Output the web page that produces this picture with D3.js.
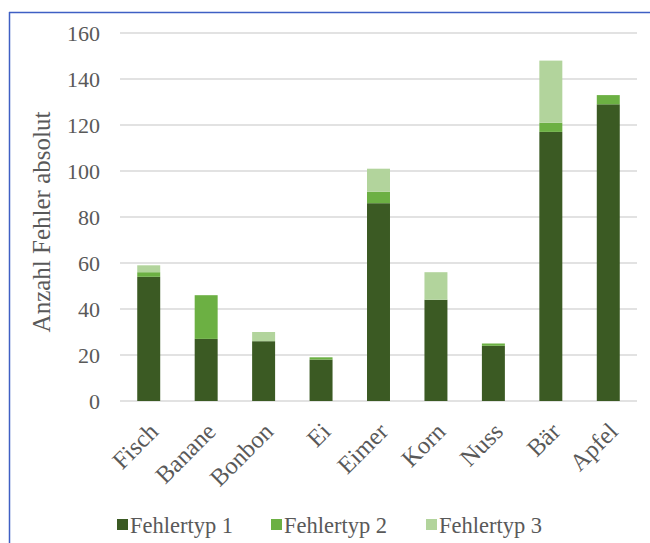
<!DOCTYPE html>
<html>
<head>
<meta charset="utf-8">
<script src="https://cdn.jsdelivr.net/npm/d3@7"></script>
<style>
  html, body { margin: 0; padding: 0; background: #fff; }
  svg { display: block; }
  text { font-family: "Liberation Serif", "Times New Roman", serif; fill: #595959; }
</style>
</head>
<body>
<svg id="chart" width="650" height="543"></svg>
<script>
// Error counts per word, stacked by error type
const categories = ["Fisch", "Banane", "Bonbon", "Ei", "Eimer", "Korn", "Nuss", "Bär", "Apfel"];
const fehlertyp1 = [54, 27, 26, 18, 86, 44, 24, 117, 129];
const fehlertyp2 = [2, 19, 0, 1, 5, 0, 1, 4, 4];
const fehlertyp3 = [3, 0, 4, 0, 10, 12, 0, 27, 0];
const seriesNames = ["Fehlertyp 1", "Fehlertyp 2", "Fehlertyp 3"];
const yTicks = [0, 20, 40, 60, 80, 100, 120, 140, 160];
const colors = ["#3b5a23", "#6cb043", "#b2d49c"];

const svg = d3.select("#chart");
const margin = { left: 120, right: 13, top: 33, bottom: 142 };
const W = 650, H = 543;
const serif = "'Liberation Serif', 'Times New Roman', serif";

// frame lines (left and top)
svg.append("line").attr("x1", 9.5).attr("x2", 9.5).attr("y1", 12).attr("y2", H)
  .attr("stroke", "#3f5fc4").attr("stroke-width", 1.5);
svg.append("line").attr("x1", 9).attr("x2", W).attr("y1", 12.5).attr("y2", 12.5)
  .attr("stroke", "#3f5fc4").attr("stroke-width", 1.5);

const x = d3.scaleBand().domain(categories)
  .range([margin.left, W - margin.right]).paddingInner(0.6).paddingOuter(0.3);
const y = d3.scaleLinear().domain([0, 160]).range([H - margin.bottom, margin.top]);

// gridlines
const grid = svg.append("g");
grid.selectAll("line").data(yTicks).join("line")
  .attr("x1", margin.left).attr("x2", W - margin.right)
  .attr("y1", d => y(d)).attr("y2", d => y(d))
  .attr("stroke", "#d9d9d9").attr("stroke-width", 1.5);

// y axis labels
const yAxis = d3.axisLeft(y).tickValues(yTicks).tickSize(0).tickPadding(20);
const ya = svg.append("g").attr("transform", `translate(${margin.left},0)`).call(yAxis);
ya.select(".domain").remove();
ya.attr("font-family", null).attr("font-size", null);
ya.selectAll("text").style("font-size", "22px")
  .style("font-family", serif).attr("fill", "#595959");

// stacked bars
const table = categories.map((c, i) => ({
  cat: c,
  "Fehlertyp 1": fehlertyp1[i],
  "Fehlertyp 2": fehlertyp2[i],
  "Fehlertyp 3": fehlertyp3[i]
}));
const stacked = d3.stack().keys(seriesNames)(table);
svg.append("g").selectAll("g").data(stacked).join("g")
  .attr("fill", (d, i) => colors[i])
  .selectAll("rect").data(d => d).join("rect")
  .attr("x", d => x(d.data.cat))
  .attr("width", x.bandwidth())
  .attr("y", d => y(d[1]))
  .attr("height", d => y(d[0]) - y(d[1]));

// x axis labels, rotated
const xAxis = d3.axisBottom(x).tickSize(0).tickPadding(0);
const xa = svg.append("g").attr("transform", `translate(0,${y(0)})`).call(xAxis);
xa.select(".domain").remove();
xa.attr("font-family", null).attr("font-size", null);
xa.selectAll("text")
  .style("font-size", "24.5px").style("font-family", serif)
  .attr("fill", "#595959")
  .attr("text-anchor", "end")
  .attr("dy", 0).attr("y", 0)
  .attr("transform", "translate(11,32) rotate(-45)");

// y axis title
svg.append("text")
  .attr("transform", `translate(50,222) rotate(-90)`)
  .attr("text-anchor", "middle")
  .style("font-size", "25px")
  .text("Anzahl Fehler absolut");

// legend
const legendX = [117, 271, 426];
const lg = svg.append("g").selectAll("g").data(seriesNames).join("g")
  .attr("transform", (d, i) => `translate(${legendX[i]},525)`);
lg.append("rect").attr("x", 0).attr("y", -6).attr("width", 11).attr("height", 11)
  .attr("fill", (d, i) => colors[i]);
lg.append("text").attr("x", 13).attr("y", 8).style("font-size", "22.5px").text(d => d);
</script>
</body>
</html>
